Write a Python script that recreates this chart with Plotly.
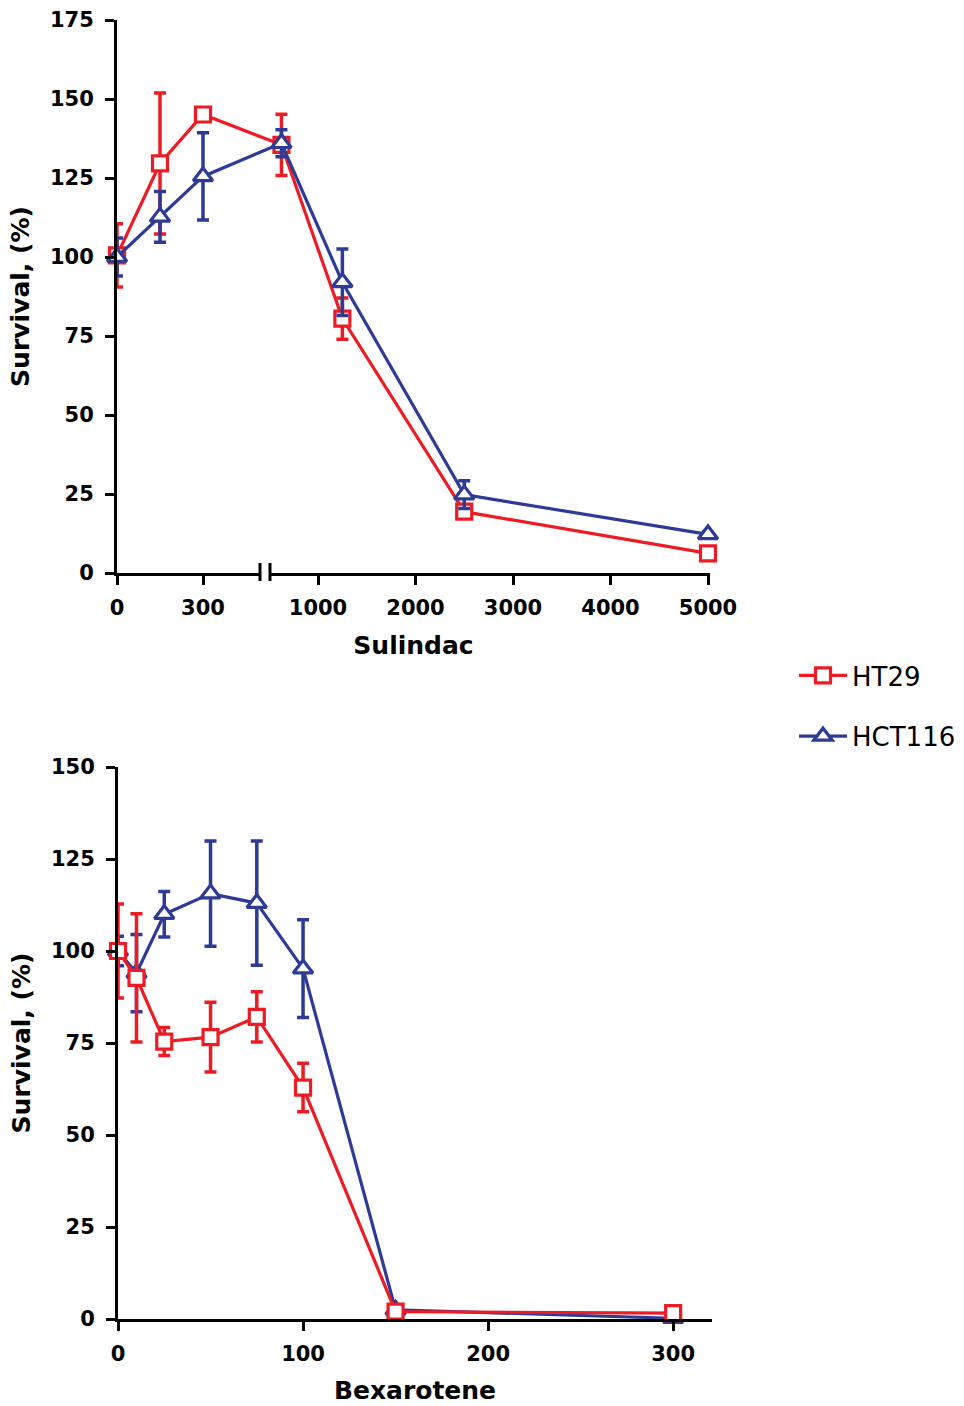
import plotly.graph_objects as go

# ---------------- data ----------------
sul_dose = [0, 150, 300, 625, 1250, 2500, 5000]
sul_ht29 = [100.5, 129.6, 145.1, 135.5, 80.5, 19.4, 6.2]
sul_ht29_err = [10, 22.3, 1.2, 9.7, 6.5, 1.8, 0.8]
sul_hct116 = [100, 112.7, 125.5, 136, 92, 24.8, 12.2]
sul_hct116_err = [6, 8, 13.8, 4.3, 10.5, 4.4, 0.8]
sul_ticks = [0, 300, 1000, 2000, 3000, 4000, 5000]

bex_dose = [0, 10, 25, 50, 75, 100, 150, 300]
bex_ht29 = [100, 92.7, 75.4, 76.6, 82.1, 62.9, 2.0, 1.6]
bex_ht29_err = [12.8, 17.4, 3.8, 9.5, 6.8, 6.6, 0.5, 0.5]
bex_hct116 = [100, 94, 110, 115.6, 113, 95.2, 2.5, 0.2]
bex_hct116_err = [4, 10.5, 6.2, 14.3, 16.9, 13.3, 0.5, 0.5]
bex_ticks = [0, 100, 200, 300]

RED = "#ED1C24"
BLUE = "#2E3B96"
W, H = 964, 1406
FONT = "DejaVu Sans, Liberation Sans, Arial, sans-serif"


# broken-axis scale for the Sulindac panel (low segment 0-~500, high segment ~500-5000)
def brk(v):
    if v <= 500:
        return v * 86.0 / 300.0
    return 201.0 + (v - 1000.0) * 0.0975


BREAK_A, BREAK_B = 143, 153  # break marks on the display scale

fig = go.Figure()


def add_series(x, y, err, name, color, symbol, xa, ya, show):
    fig.add_trace(go.Scatter(
        x=x, y=y, name=name, mode="lines+markers",
        xaxis=xa, yaxis=ya, showlegend=show, legendgroup=name,
        line=dict(color=color, width=3.2),
        marker=dict(symbol=symbol, size=15 if symbol == "square" else 17,
                    color="white", line=dict(color=color, width=3.2)),
        error_y=dict(type="data", array=err, visible=True,
                     color=color, thickness=3.5, width=6),
        cliponaxis=False,
    ))


sx = [brk(v) for v in sul_dose]
add_series(sx, sul_ht29, sul_ht29_err, "HT29", RED, "square", "x", "y", True)
add_series(sx, sul_hct116, sul_hct116_err, "HCT116", BLUE, "triangle-up", "x", "y", True)
add_series(bex_dose, bex_hct116, bex_hct116_err, "HCT116", BLUE, "triangle-up", "x2", "y2", False)
add_series(bex_dose, bex_ht29, bex_ht29_err, "HT29", RED, "square", "x2", "y2", False)


def px_x(p):
    return p / W


def px_y(p):
    return 1 - p / H


tickfont = dict(family=FONT, size=21, color="black", weight="bold")
titlefont = dict(family=FONT, size=25, color="black", weight="bold")
axis_common = dict(showline=True, linewidth=3, linecolor="black", ticks="outside",
                   ticklen=9, tickwidth=3, tickcolor="black", showgrid=False,
                   zeroline=False, tickfont=tickfont, automargin=False)

fig.update_layout(
    width=W, height=H, margin=dict(l=0, r=0, t=0, b=0, autoexpand=False),
    plot_bgcolor="white", paper_bgcolor="white",
    xaxis=dict(domain=[px_x(117), px_x(710)], range=[0, 593], anchor="y",
               tickvals=[brk(v) for v in sul_ticks], ticktext=[str(v) for v in sul_ticks],
               ticklabelstandoff=5,
               title=dict(text="Sulindac", font=titlefont, standoff=18), **axis_common),
    yaxis=dict(domain=[px_y(573), px_y(20)], range=[0, 175], anchor="x",
               tickvals=list(range(0, 176, 25)), ticklabelstandoff=7,
               title=dict(text="Survival, (%)", font=titlefont, standoff=14), **axis_common),
    xaxis2=dict(domain=[px_x(118), px_x(712)], range=[0, 321], anchor="y2",
                tickvals=bex_ticks, ticklabelstandoff=5,
                title=dict(text="Bexarotene", font=titlefont, standoff=17), **axis_common),
    yaxis2=dict(domain=[px_y(1319), px_y(767)], range=[0, 150], anchor="x2",
                tickvals=list(range(0, 151, 25)), ticklabelstandoff=7,
                title=dict(text="Survival, (%)", font=titlefont, standoff=14), **axis_common),
    legend=dict(x=px_x(794), y=px_y(652), xanchor="left", yanchor="top",
                font=dict(family=FONT, size=26, color="black"), itemwidth=48,
                traceorder="grouped", tracegroupgap=24, bgcolor="rgba(0,0,0,0)"),
    shapes=[
        dict(type="rect", xref="x", yref="paper", x0=BREAK_A, x1=BREAK_B,
             y0=px_y(576), y1=px_y(570), fillcolor="white", line=dict(width=0), layer="above"),
        dict(type="line", xref="x", yref="paper", x0=BREAK_A, x1=BREAK_A,
             y0=px_y(581), y1=px_y(563), line=dict(color="black", width=3), layer="above"),
        dict(type="line", xref="x", yref="paper", x0=BREAK_B, x1=BREAK_B,
             y0=px_y(581), y1=px_y(563), line=dict(color="black", width=3), layer="above"),
    ],
)

fig.write_html("out.html", config={"displayModeBar": False},
               post_script="document.body.style.margin='0';")
